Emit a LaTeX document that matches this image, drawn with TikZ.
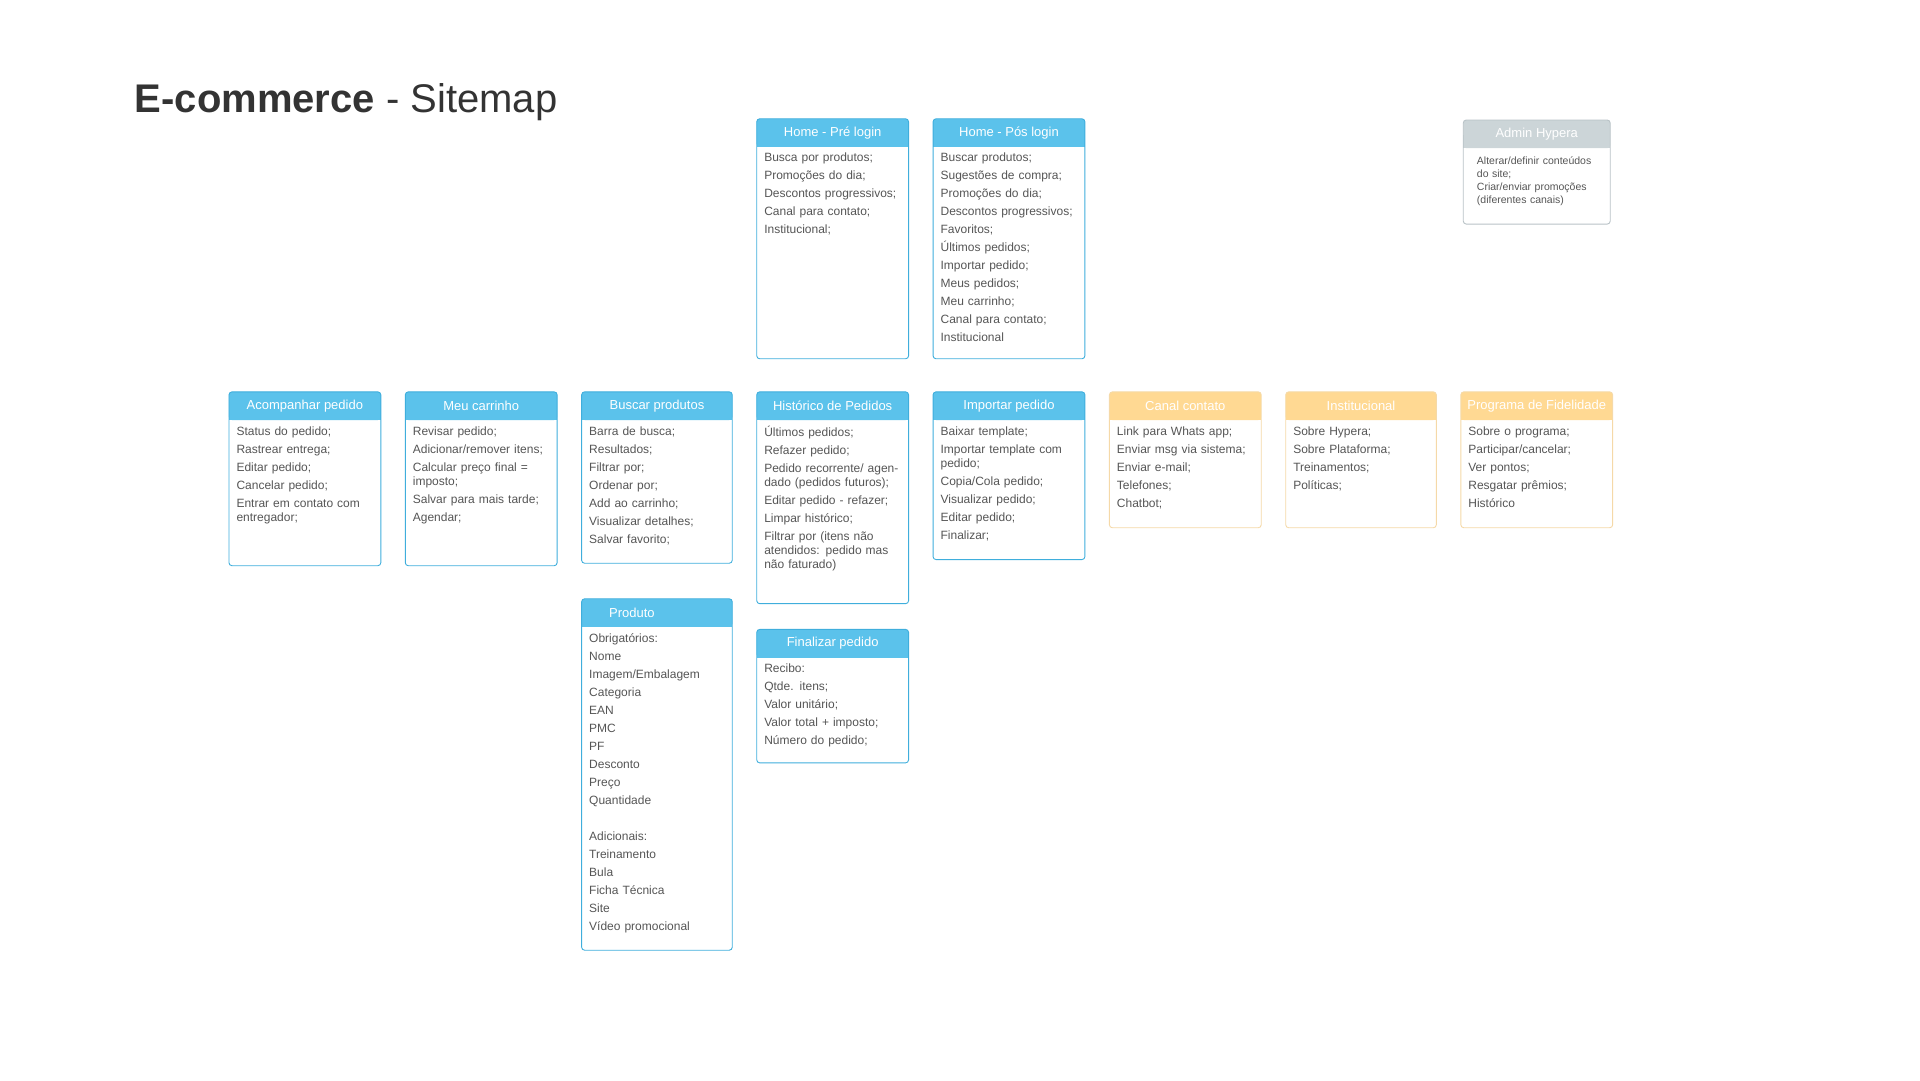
\documentclass[tikz,border=0pt]{standalone}
\usepackage{fontspec}
\setmainfont{Liberation Sans}
\definecolor{bh}{HTML}{5BC2EB}\definecolor{bl}{HTML}{3FAEDC}
\definecolor{oh}{HTML}{FFD993}\definecolor{ol}{HTML}{F5D9A8}
\definecolor{gh}{HTML}{CCD5D8}\definecolor{gl}{HTML}{B8C2C6}
\definecolor{txt}{HTML}{555555}
\tikzset{
 head/.style={text=white,font=\fontsize{13}{15}\selectfont,inner sep=0pt},
 body/.style={anchor=north west,inner sep=0pt,text=txt,align=left,text width=137pt,
   font=\fontsize{12}{14}\selectfont,execute at begin node={\setlength{\parskip}{4pt}}},
 small/.style={body,text width=122pt,font=\fontsize{10.5}{13}\selectfont,execute at begin node={\setlength{\parskip}{0pt}}},
 bluehead/.style={fill=bh},blueline/.style={draw=bl,line width=0.9pt},
 orangehead/.style={fill=oh},orangeline/.style={draw=ol,line width=0.9pt},
 grayhead/.style={fill=gh},grayline/.style={draw=gl,line width=0.9pt},
}
\newcommand\card[9]{%
 \fill[#6head,rounded corners=3pt] (#2,#3) rectangle (#4,#3+23);
 \fill[#6head] (#2,#3+12) rectangle (#4,#3+23);
 \draw[#6line,rounded corners=3pt] (#2,#3) rectangle (#4,#5);
 \node[head,#9] (#1-h) at ({(#2+#4)/2},#3+11.5) {#7};
 \node[body] (#1) at (#2+6,#3+28) {#8};}
\begin{document}
\begin{tikzpicture}[x=1.2245pt,y=-1.2245pt]
\useasboundingbox (0,0) rectangle (1568,882);
\node[anchor=base west,inner sep=0pt,text=black!80,font=\fontsize{40}{44}\selectfont] (title) at (110,92) {\textbf{E-commerce} - Sitemap};
\card{pre}{618}{97}{742}{293}{blue}{Home - Pré login}{Busca por produtos;\par Promoções do dia;\par Descontos progressivos;\par Canal para contato;\par Institucional;}{}
\card{pos}{762}{97}{886}{293}{blue}{Home - Pós login}{Buscar produtos;\par Sugestões de compra;\par Promoções do dia;\par Descontos progressivos;\par Favoritos;\par Últimos pedidos;\par Importar pedido;\par Meus pedidos;\par Meu carrinho;\par Canal para contato;\par Institucional}{}
\fill[grayhead,rounded corners=3pt] (1195,98) rectangle (1315,121);
\fill[grayhead] (1195,110) rectangle (1315,121);
\draw[grayline,rounded corners=3pt] (1195,98) rectangle (1315,183);
\node[head] (adm-h) at (1255,109.5) {Admin Hypera};
\node[small] (adm) at (1206,128) {Alterar/definir conteúdos do site;\par Criar/enviar promoções (diferentes canais)};
\card{aco}{187}{320}{311}{462}{blue}{Acompanhar pedido}{Status do pedido;\par Rastrear entrega;\par Editar pedido;\par Cancelar pedido;\par Entrar em contato com entregador;}{}
\card{car}{331}{320}{455}{462}{blue}{Meu carrinho}{Revisar pedido;\par Adicionar/remover itens;\par Calcular preço final = imposto;\par Salvar para mais tarde;\par Agendar;}{}
\card{bus}{475}{320}{598}{460}{blue}{Buscar produtos}{Barra de busca;\par Resultados;\par Filtrar por;\par Ordenar por;\par Add ao carrinho;\par Visualizar detalhes;\par Salvar favorito;}{}
\card{his}{618}{320}{742}{493}{blue}{Histórico de Pedidos}{Últimos pedidos;\par Refazer pedido;\par Pedido recorrente/ agendado (pedidos futuros);\par Editar pedido - refazer;\par Limpar histórico;\par Filtrar por (itens não atendidos: pedido mas não faturado)}{}
\card{imp}{762}{320}{886}{457}{blue}{Importar pedido}{Baixar template;\par Importar template com pedido;\par Copia/Cola pedido;\par Visualizar pedido;\par Editar pedido;\par Finalizar;}{}
\card{can}{906}{320}{1030}{431}{orange}{Canal contato}{Link para Whats app;\par Enviar msg via sistema;\par Enviar e-mail;\par Telefones;\par Chatbot;}{}
\card{ins}{1050}{320}{1173}{431}{orange}{Institucional}{Sobre Hypera;\par Sobre Plataforma;\par Treinamentos;\par Políticas;}{}
\card{pro}{1193}{320}{1317}{431}{orange}{Programa de Fidelidade}{Sobre o programa;\par Participar/cancelar;\par Ver pontos;\par Resgatar prêmios;\par Histórico}{}
\card{prd}{475}{489}{598}{776}{blue}{Produto}{Obrigatórios:\par Nome\par Imagem/Embalagem\par Categoria\par EAN\par PMC\par PF\par Desconto\par Preço\par Quantidade\par\mbox{}\par Adicionais:\par Treinamento\par Bula\par Ficha Técnica\par Site\par Vídeo promocional}{xshift=-25pt}
\card{fin}{618}{514}{742}{623}{blue}{Finalizar pedido}{Recibo:\par Qtde. itens;\par Valor unitário;\par Valor total + imposto;\par Número do pedido;}{}
\end{tikzpicture}
\end{document}
